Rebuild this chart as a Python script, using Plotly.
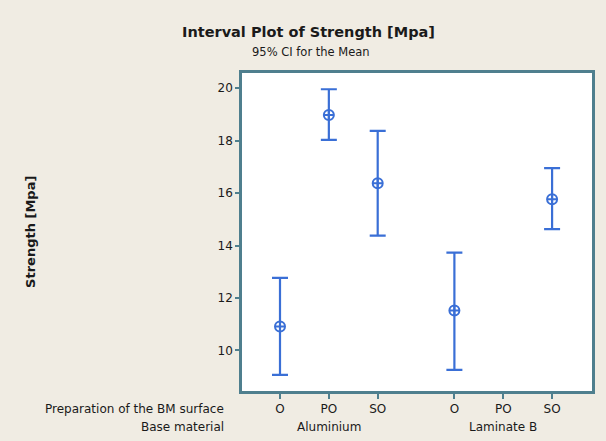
import plotly.graph_objects as go

prep = ["O", "PO", "SO", "O", "PO", "SO"]
material = ["Aluminium", "Laminate B"]
x_pos = [0, 1, 2, 3.57, 4.57, 5.57]
mean = [10.91, 18.98, 16.38, 11.52, None, 15.77]
upper = [12.77, 19.96, 18.37, 13.73, None, 16.95]
lower = [9.07, 18.03, 14.38, 9.26, None, 14.63]
y_ticks = [10, 12, 14, 16, 18, 20]

err_plus = [None if m is None else u - m for m, u in zip(mean, upper)]
err_minus = [None if m is None else m - l for m, l in zip(mean, lower)]

blue = "#3a6fd6"
frame = "#4f7f8e"
FONT = "DejaVu Sans"

fig = go.Figure()
fig.add_trace(go.Scatter(
    x=x_pos, y=mean, mode="markers",
    marker=dict(symbol="circle-cross-open", size=10, color=blue, line=dict(width=2, color=blue)),
    error_y=dict(type="data", symmetric=False, array=err_plus, arrayminus=err_minus,
                 color=blue, thickness=2.2, width=8),
    showlegend=False, hoverinfo="y",
))

fig.update_layout(
    width=606, height=441,
    margin=dict(l=242, r=14, t=73, b=50),
    paper_bgcolor="#f0ece3", plot_bgcolor="white",
    font=dict(family=FONT, size=12, color="#1a1a1a"),
    xaxis=dict(range=[-0.778, 6.387], tickvals=x_pos, ticktext=prep,
               showgrid=False, zeroline=False, showline=True, mirror=True,
               linecolor=frame, linewidth=2.5, ticks="outside", ticklen=5,
               tickcolor=frame, tickwidth=1.5, tickfont=dict(size=12)),
    yaxis=dict(range=[8.455, 20.58], tickvals=y_ticks,
               showgrid=False, zeroline=False, showline=True, mirror=True,
               linecolor=frame, linewidth=2.5, ticks="outside", ticklen=4,
               tickcolor=frame, tickwidth=1.5, tickfont=dict(size=12)),
)

# group labels (second level)
groups_center = [x_pos[1], x_pos[4]]
for name, xc in zip(material, groups_center):
    fig.add_annotation(x=xc, y=-0.113, xref="x", yref="paper", text=name,
                       showarrow=False, xanchor="center", yanchor="middle",
                       font=dict(size=12))

fig.add_annotation(x=-0.046, y=-0.057, xref="paper", yref="paper",
                   text="Preparation of the BM surface", showarrow=False,
                   xanchor="right", yanchor="middle", font=dict(size=12))
fig.add_annotation(x=-0.046, y=-0.113, xref="paper", yref="paper",
                   text="Base material", showarrow=False,
                   xanchor="right", yanchor="middle", font=dict(size=12))

fig.add_annotation(x=-0.606, y=0.5, xref="paper", yref="paper",
                   text="<b>Strength [Mpa]</b>", textangle=-90, showarrow=False,
                   xanchor="center", yanchor="middle", font=dict(size=13))

fig.add_annotation(x=(308 - 242) / 350, y=(391 - 32) / 318, xref="paper", yref="paper",
                   text="<b>Interval Plot of Strength [Mpa]</b>", showarrow=False,
                   xanchor="center", yanchor="middle", font=dict(size=14.5))
fig.add_annotation(x=(311 - 242) / 350, y=(391 - 52) / 318, xref="paper", yref="paper",
                   text="95% CI for the Mean", showarrow=False,
                   xanchor="center", yanchor="middle", font=dict(size=11.5))

fig.write_html("out.html", config={"displayModeBar": False},
               post_script="document.body.style.margin='0';")
